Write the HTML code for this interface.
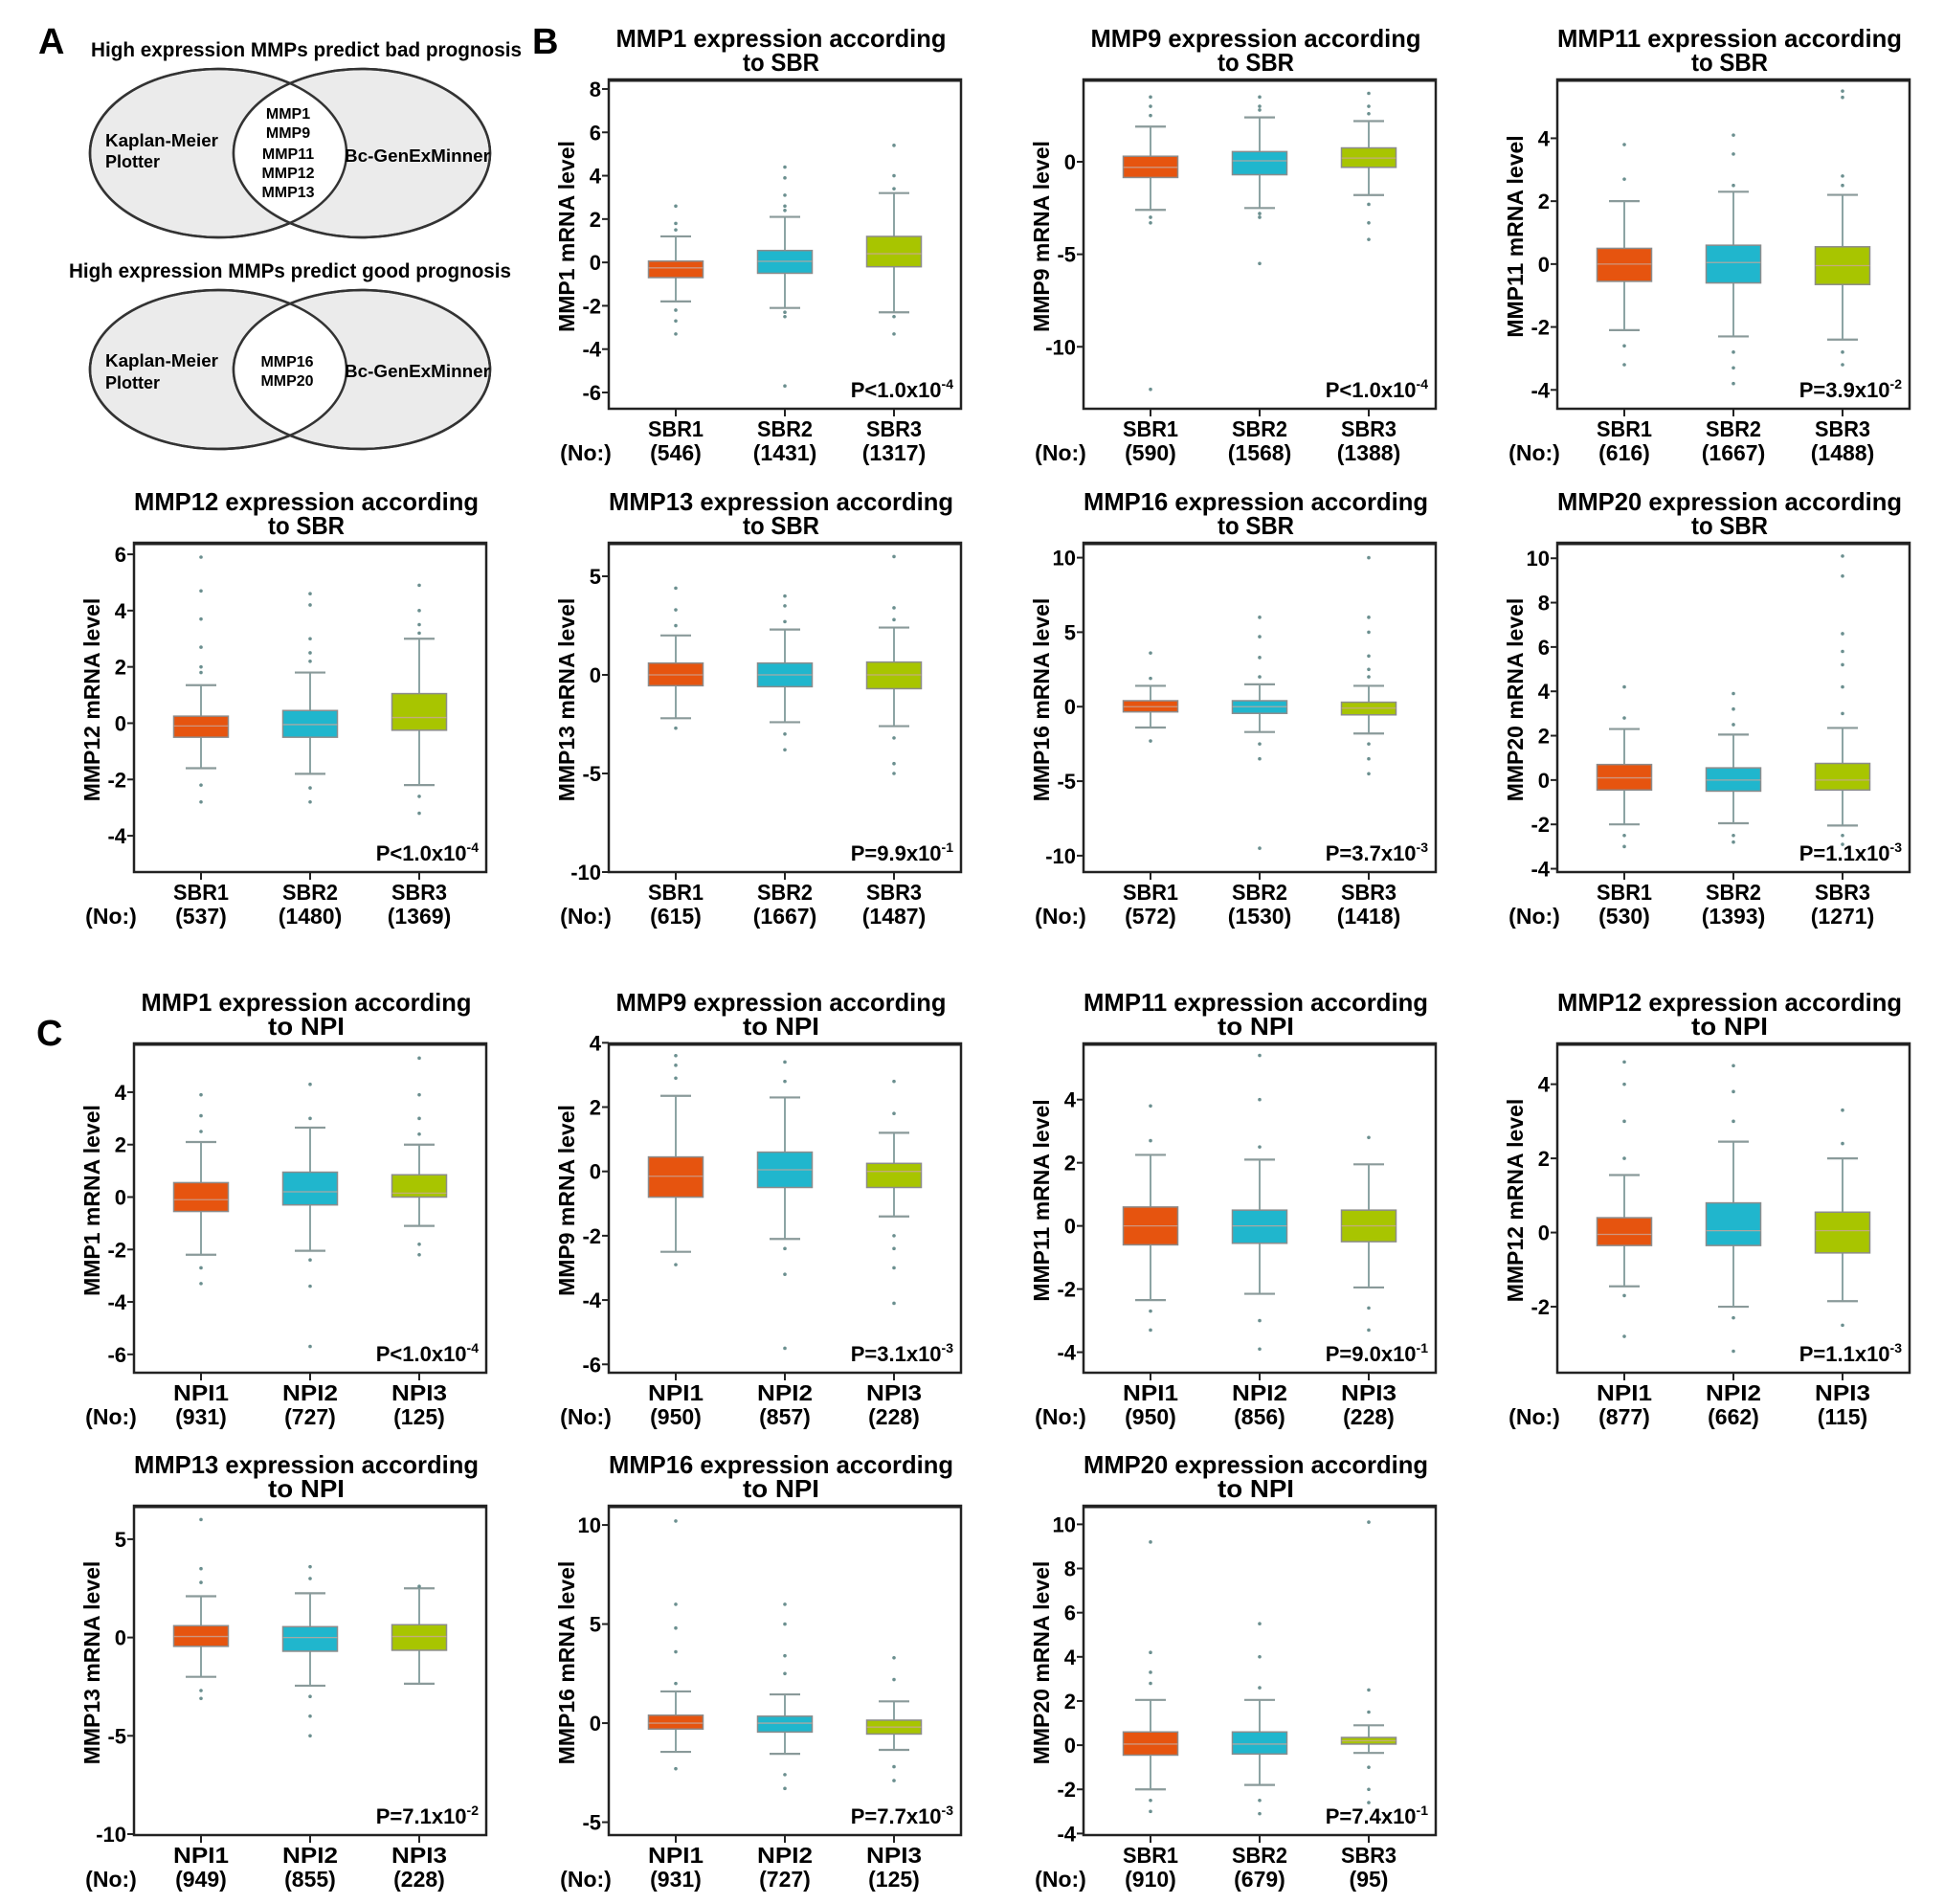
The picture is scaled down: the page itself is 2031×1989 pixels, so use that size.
<!DOCTYPE html>
<html><head><meta charset="utf-8"><style>
html,body{margin:0;padding:0;background:#fff;}
svg{display:block;font-family:"Liberation Sans",Arial,sans-serif;}
</style></head><body>
<svg id="fig" width="2031" height="1989" viewBox="0 0 2031 1989" xmlns="http://www.w3.org/2000/svg">
<defs>
<clipPath id="clipL"><ellipse cx="228" cy="160" rx="134" ry="88"/></clipPath>
<clipPath id="clipL2"><ellipse cx="228" cy="386" rx="134" ry="83"/></clipPath>
</defs>
<g>
<text x="40" y="56" font-size="38" font-weight="bold">A</text>
<text x="320" y="59" font-size="21" font-weight="bold" text-anchor="middle" textLength="450" lengthAdjust="spacingAndGlyphs">High expression MMPs predict bad prognosis</text>
<ellipse cx="228" cy="160" rx="134" ry="88" fill="#ebebeb" stroke="#333" stroke-width="2.5"/>
<ellipse cx="378" cy="160" rx="134" ry="88" fill="#ebebeb" stroke="#333" stroke-width="2.5"/>
<ellipse cx="378" cy="160" rx="134" ry="88" fill="#fff" clip-path="url(#clipL)"/>
<ellipse cx="228" cy="160" rx="134" ry="88" fill="none" stroke="#333" stroke-width="2.5"/>
<ellipse cx="378" cy="160" rx="134" ry="88" fill="none" stroke="#333" stroke-width="2.5"/>
<g font-size="18" font-weight="bold">
<text x="110" y="153" textLength="118" lengthAdjust="spacingAndGlyphs">Kaplan-Meier</text><text x="110" y="175">Plotter</text>
<text x="360" y="169" textLength="152" lengthAdjust="spacingAndGlyphs">Bc-GenExMinner</text>
<text x="301" y="124" text-anchor="middle" font-size="16">MMP1</text>
<text x="301" y="144" text-anchor="middle" font-size="16">MMP9</text>
<text x="301" y="166" text-anchor="middle" font-size="16">MMP11</text>
<text x="301" y="186" text-anchor="middle" font-size="16">MMP12</text>
<text x="301" y="206" text-anchor="middle" font-size="16">MMP13</text>
</g>
<text x="303" y="290" font-size="21" font-weight="bold" text-anchor="middle" textLength="462" lengthAdjust="spacingAndGlyphs">High expression MMPs predict good prognosis</text>
<ellipse cx="228" cy="386" rx="134" ry="83" fill="#ebebeb" stroke="#333" stroke-width="2.5"/>
<ellipse cx="378" cy="386" rx="134" ry="83" fill="#ebebeb" stroke="#333" stroke-width="2.5"/>
<ellipse cx="378" cy="386" rx="134" ry="83" fill="#fff" clip-path="url(#clipL2)"/>
<ellipse cx="228" cy="386" rx="134" ry="83" fill="none" stroke="#333" stroke-width="2.5"/>
<ellipse cx="378" cy="386" rx="134" ry="83" fill="none" stroke="#333" stroke-width="2.5"/>
<g font-size="18" font-weight="bold">
<text x="110" y="383" textLength="118" lengthAdjust="spacingAndGlyphs">Kaplan-Meier</text><text x="110" y="406">Plotter</text>
<text x="360" y="394" textLength="152" lengthAdjust="spacingAndGlyphs">Bc-GenExMinner</text>
<text x="300" y="383" text-anchor="middle" font-size="16">MMP16</text>
<text x="300" y="403" text-anchor="middle" font-size="16">MMP20</text>
</g>
</g>
<text x="556" y="56" font-size="38" font-weight="bold">B</text>
<text x="38" y="1092" font-size="38" font-weight="bold">C</text>
<g id="charts"></g>
</svg>
<script>
// ----- data (one entry per panel) -----
const genes = ["MMP1","MMP9","MMP11","MMP12","MMP13","MMP16","MMP20","MMP1","MMP9","MMP11","MMP12","MMP13","MMP16","MMP20"];
const groupings = ["SBR","SBR","SBR","SBR","SBR","SBR","SBR","NPI","NPI","NPI","NPI","NPI","NPI","NPI"];
const categories = [
 ["SBR1","SBR2","SBR3"],["SBR1","SBR2","SBR3"],["SBR1","SBR2","SBR3"],["SBR1","SBR2","SBR3"],
 ["SBR1","SBR2","SBR3"],["SBR1","SBR2","SBR3"],["SBR1","SBR2","SBR3"],
 ["NPI1","NPI2","NPI3"],["NPI1","NPI2","NPI3"],["NPI1","NPI2","NPI3"],["NPI1","NPI2","NPI3"],
 ["NPI1","NPI2","NPI3"],["NPI1","NPI2","NPI3"],["SBR1","SBR2","SBR3"]];
const counts = [
 ["546","1431","1317"],["590","1568","1388"],["616","1667","1488"],["537","1480","1369"],
 ["615","1667","1487"],["572","1530","1418"],["530","1393","1271"],
 ["931","727","125"],["950","857","228"],["950","856","228"],["877","662","115"],
 ["949","855","228"],["931","727","125"],["910","679","95"]];
const pValues = ["P<1.0x10|-4","P<1.0x10|-4","P=3.9x10|-2","P<1.0x10|-4","P=9.9x10|-1","P=3.7x10|-3","P=1.1x10|-3",
 "P<1.0x10|-4","P=3.1x10|-3","P=9.0x10|-1","P=1.1x10|-3","P=7.1x10|-2","P=7.7x10|-3","P=7.4x10|-1"];
const yDomains = [[-6.75,8.44],[-13.35,4.45],[-4.6,5.87],[-5.29,6.41],[-10,6.7],[-11.1,11.0],[-4.15,10.7],
 [-6.7,5.86],[-6.26,3.98],[-4.65,5.78],[-3.78,5.1],[-10.05,6.7],[-5.65,10.97],[-4.07,10.84]];
const yTicks = [[8,6,4,2,0,-2,-4,-6],[0,-5,-10],[4,2,0,-2,-4],[6,4,2,0,-2,-4],[5,0,-5,-10],[10,5,0,-5,-10],[10,8,6,4,2,0,-2,-4],
 [4,2,0,-2,-4,-6],[4,2,0,-2,-4,-6],[4,2,0,-2,-4],[4,2,0,-2],[5,0,-5,-10],[10,5,0,-5],[10,8,6,4,2,0,-2,-4]];
const medians = [[-0.25,0.05,0.4],[-0.3,0.05,0.2],[0,0.05,-0.05],[-0.1,-0.05,0.2],[0,0,0],[0,0,-0.1],[0.1,0,0],
 [-0.1,0.2,0.15],[-0.15,0.05,0],[0,0,0],[-0.05,0.05,0.05],[0.05,0,0.05],[0,0,-0.2],[0.05,0.05,0.2]];
const q1s = [[-0.7,-0.5,-0.2],[-0.85,-0.7,-0.3],[-0.55,-0.6,-0.65],[-0.5,-0.5,-0.25],[-0.55,-0.6,-0.7],[-0.35,-0.45,-0.55],[-0.45,-0.5,-0.45],
 [-0.55,-0.3,0],[-0.8,-0.5,-0.5],[-0.6,-0.55,-0.5],[-0.35,-0.35,-0.55],[-0.45,-0.7,-0.65],[-0.3,-0.45,-0.55],[-0.45,-0.4,0.05]];
const q3s = [[0.06,0.55,1.2],[0.3,0.55,0.75],[0.5,0.6,0.55],[0.25,0.45,1.05],[0.6,0.6,0.65],[0.4,0.4,0.3],[0.7,0.55,0.75],
 [0.55,0.95,0.85],[0.45,0.6,0.25],[0.6,0.5,0.5],[0.4,0.8,0.55],[0.6,0.55,0.65],[0.4,0.35,0.15],[0.6,0.6,0.35]];
const whiskerHi = [[1.2,2.1,3.2],[1.9,2.4,2.2],[2.0,2.3,2.2],[1.35,1.8,3.0],[2.0,2.3,2.4],[1.4,1.5,1.4],[2.3,2.05,2.35],
 [2.1,2.65,2.0],[2.35,2.3,1.2],[2.25,2.1,1.95],[1.55,2.45,2.0],[2.1,2.25,2.5],[1.6,1.45,1.1],[2.05,2.05,0.9]];
const whiskerLo = [[-1.8,-2.1,-2.3],[-2.6,-2.5,-1.8],[-2.1,-2.3,-2.4],[-1.6,-1.8,-2.2],[-2.2,-2.4,-2.6],[-1.4,-1.7,-1.8],[-2.0,-1.95,-2.05],
 [-2.2,-2.05,-1.1],[-2.5,-2.1,-1.4],[-2.35,-2.15,-1.95],[-1.45,-2.0,-1.85],[-2.0,-2.45,-2.35],[-1.45,-1.55,-1.35],[-2.0,-1.8,-0.35]];
const outliers = [
 [[1.5,1.8,2.6,-2.2,-2.7,-3.3],[2.4,2.6,3.1,3.9,4.4,-2.3,-2.5,-5.7],[3.4,4.0,5.4,-2.5,-3.3]],
 [[2.5,3.0,3.5,-3.0,-3.3,-12.3],[2.8,3.0,3.5,-2.8,-3.0,-5.5],[2.6,3.0,3.7,-2.3,-3.3,-4.2]],
 [[2.7,3.8,-2.6,-3.2],[2.5,3.5,4.1,-2.8,-3.3,-3.8],[2.5,2.8,5.3,5.5,-2.8,-3.2]],
 [[1.8,2.0,2.7,3.7,4.7,5.9,-2.2,-2.8],[2.2,2.5,3.0,4.2,4.6,-2.3,-2.8],[3.2,3.5,4.0,4.9,-2.6,-3.2]],
 [[2.5,3.3,4.4,-2.7],[2.7,3.5,4.0,-3.0,-3.8],[2.8,3.4,6.0,-3.2,-4.5,-5.0]],
 [[1.9,3.6,-2.3],[2.0,3.3,4.7,6.0,-2.5,-3.5,-9.5],[2.0,2.5,3.4,5.0,6.0,10.0,-2.5,-3.5,-4.5]],
 [[2.8,4.2,-2.5,-3.0],[2.5,3.2,3.9,-2.5,-2.8],[3.0,4.2,5.2,5.8,6.6,9.2,10.1,-2.5,-2.9]],
 [[2.5,3.1,3.9,-2.7,-3.3],[3.0,4.3,-2.4,-3.4,-5.7],[2.4,3.0,3.9,5.3,-1.8,-2.2]],
 [[2.9,3.3,3.6,-2.9],[2.8,3.4,-2.4,-3.2,-5.5],[1.8,2.8,-2.0,-2.4,-3.0,-4.1]],
 [[2.7,3.8,-2.7,-3.3],[2.5,4.0,5.4,-3.0,-3.9],[2.8,-2.6,-3.3]],
 [[2.0,3.0,4.0,4.6,-1.7,-2.8],[3.0,3.8,4.5,-2.3,-3.2],[2.4,3.3,-2.5]],
 [[2.8,3.5,6.0,-2.7,-3.1],[3.0,3.6,-3.0,-4.0,-5.0],[2.6]],
 [[2.0,3.6,4.8,6.0,10.2,-2.3],[2.5,3.4,5.0,6.0,-2.6,-3.3],[2.2,3.3,-2.2,-2.9]],
 [[2.8,3.3,4.2,9.2,-2.5,-3.0],[2.6,4.0,5.5,-2.5,-3.1],[1.5,2.5,10.1,-1.0,-2.0,-2.6]]];
const fillColors = ["#e6540f","#20b6cd","#a8c500"];
</script>
<script>
const NS = "http://www.w3.org/2000/svg";
const colX = [140, 636, 1132, 1627];
const rowY = [83, 567, 1090, 1573];
const slots = [[0,1],[0,2],[0,3],[1,0],[1,1],[1,2],[1,3],[2,0],[2,1],[2,2],[2,3],[3,0],[3,1],[3,2]];
const W = 368, H = 344, catOff = [70,184,298], BW = 57;
const root = document.getElementById("charts");
function mk(tag, attrs, parent){ const e=document.createElementNS(NS,tag); for(const k in attrs) e.setAttribute(k,attrs[k]); parent.appendChild(e); return e; }
function txt(parent, x, y, s, attrs){ const t=mk("text",Object.assign({x:x,y:y},attrs||{}),parent); t.textContent=s; return t; }

genes.forEach((gene, i) => {
  const [r, c] = slots[i];
  const L = colX[c], T = rowY[r];
  const [lo, hi] = yDomains[i];
  const yS = v => T + (hi - v) / (hi - lo) * H;
  const xS = k => L + catOff[k];
  const g = mk("g", {}, root);
  
  

  const title = mk("g", {"font-size":"26","font-weight":"bold","text-anchor":"middle"}, g);
  
  
  txt(title, L + W/2 - 4, T - 34, gene + " expression according", {textLength: gene.length > 4 ? 360 : 345, lengthAdjust: "spacingAndGlyphs"});
  const ts = "to " + groupings[i];
  txt(title, L + W/2 - 4, T - 9, ts, {textLength: 80, lengthAdjust: "spacingAndGlyphs"});

  // axis title
  const yt = txt(g, 0, 0, gene + " mRNA level", {"font-size":"23","font-weight":"bold","text-anchor":"middle",
    transform:"translate(" + (L - 36) + "," + (T + H/2 - 8) + ") rotate(-90)"});
  
  

  // ticks
  yTicks[i].forEach(v => {
    const y = yS(v);
    const tk = mk("line", {x1:L-7, x2:L, y1:y, y2:y, stroke:"#222", "stroke-width":2}, g);
    
    
    const tl = txt(g, L - 8, y + 8, String(v), {"font-size":"22","font-weight":"bold","text-anchor":"end"});
    
    
  });

  // boxes
  categories[i].forEach((cat, k) => {
    const x = xS(k);
    const bg = mk("g", {}, g);
    
    
    mk("line", {x1:x, x2:x, y1:yS(whiskerHi[i][k]), y2:yS(whiskerLo[i][k]), stroke:"#7f9a9a", "stroke-width":1.8}, bg);
    [whiskerHi[i][k], whiskerLo[i][k]].forEach(v => mk("line", {x1:x-16, x2:x+16, y1:yS(v), y2:yS(v), stroke:"#8a9a9a", "stroke-width":2.2}, bg));
    outliers[i][k].forEach(v => {
      const o = mk("circle", {cx:x, cy:yS(v), r:1.8, fill:"#6b8f8f"}, bg);
      
      
    });
    const rect = mk("rect", {x:x-BW/2, y:yS(q3s[i][k]), width:BW, height:Math.max(2, yS(q1s[i][k]) - yS(q3s[i][k])), fill:fillColors[k], stroke:"#8c8c8c", "stroke-width":1.5}, bg);
    
    
    mk("line", {x1:x-BW/2, x2:x+BW/2, y1:yS(medians[i][k]), y2:yS(medians[i][k]), stroke:"#c9a79a", "stroke-width":1.3, opacity:0.8}, bg);
    mk("line", {x1:x, x2:x, y1:T+H, y2:T+H+8, stroke:"#222", "stroke-width":2}, g);
    const cl = txt(g, x, T + H + 29, cat, {"font-size":"23","font-weight":"bold","text-anchor":"middle", textLength: 58, lengthAdjust:"spacingAndGlyphs"});
    
    
    const nl = txt(g, x, T + H + 54, "(" + counts[i][k] + ")", {"font-size":"23","font-weight":"bold","text-anchor":"middle"});
    
    
  });
  const no = txt(g, L - 24, T + H + 54, "(No:)", {"font-size":"23","font-weight":"bold","text-anchor":"middle"});
  
  

  // frame
  const fr = mk("rect", {x:L, y:T, width:W, height:H, fill:"none", stroke:"#222", "stroke-width":2.5}, g);
  
  
  mk("line", {x1:L, x2:L+W, y1:T+1, y2:T+1, stroke:"#222", "stroke-width":3}, g);

  // p-value
  const [base, exp] = pValues[i].split("|");
  const pv = mk("text", {x:L + W - 8, y:T + H - 12, "font-size":"22","font-weight":"bold","text-anchor":"end"}, g);
  
  
  const t1 = document.createElementNS(NS, "tspan"); t1.textContent = base; pv.appendChild(t1);
  const t2 = document.createElementNS(NS, "tspan"); t2.setAttribute("dy", "-9"); t2.setAttribute("font-size", "14"); t2.textContent = exp; pv.appendChild(t2);
});
</script>
</body></html>
